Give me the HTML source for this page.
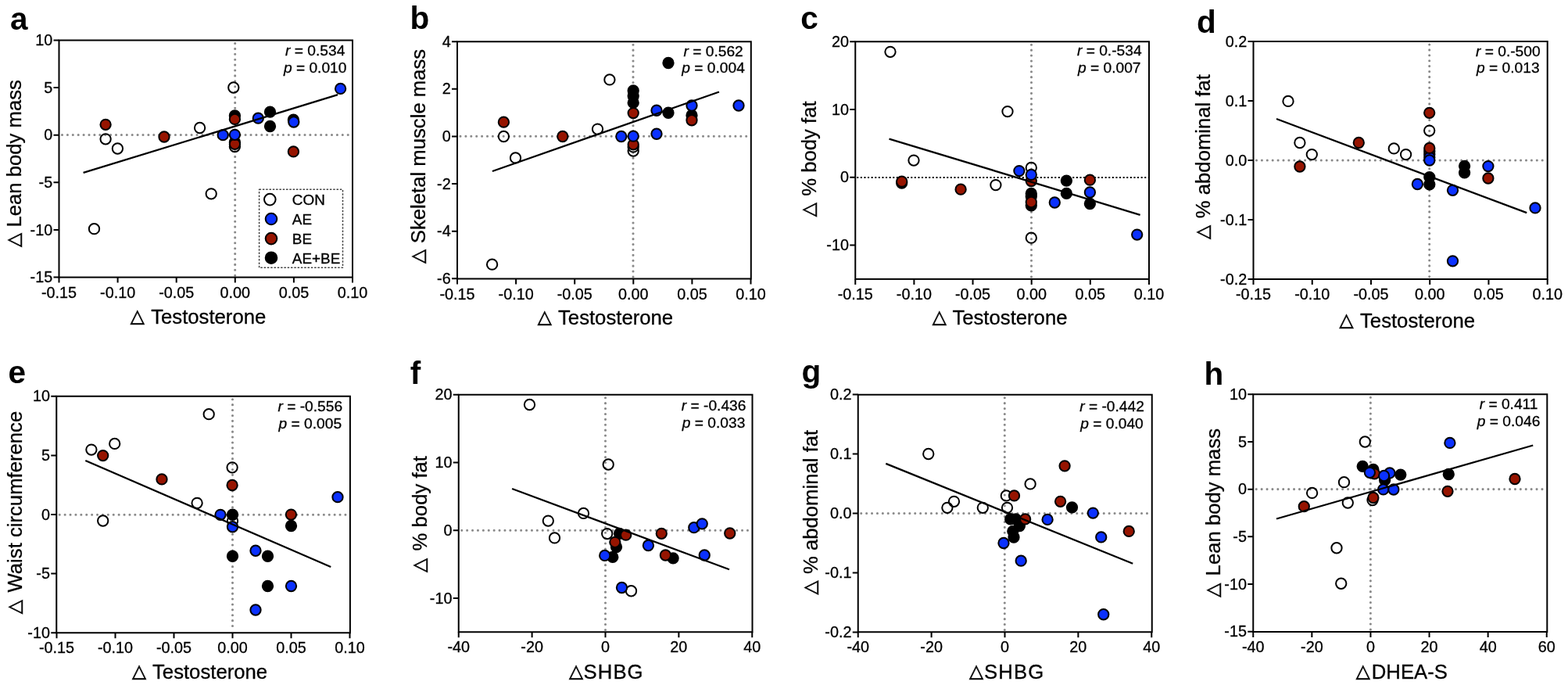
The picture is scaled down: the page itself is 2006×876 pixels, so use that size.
<!DOCTYPE html>
<html><head><meta charset="utf-8"><title>Figure</title>
<style>
html,body{margin:0;padding:0;background:#fff;}
svg{display:block;}
text{font-family:'Liberation Sans', Arial, sans-serif;fill:#000;stroke:#000;stroke-width:0.3px;}
.tx{font-size:19.8px;}
.an{font-size:19.2px;}
.ti{font-size:25.7px;}
.sh{letter-spacing:1.1px;}
.le{font-size:18.9px;}
.pl{font-size:40.5px;font-weight:bold;stroke-width:0;}
.dl{font-family:'DejaVu Sans',sans-serif;font-size:23.5px;stroke:#000;stroke-width:0.6px;}
.zg{stroke:#8a8a8a;stroke-width:3.1;stroke-linecap:round;stroke-dasharray:0 6.9;fill:none;}
.zb{stroke:#000;stroke-width:2;stroke-dasharray:2 2.6;fill:none;}
.c0{fill:none;stroke:#000;stroke-width:2.0;}
.c1{fill:#0b31ff;stroke:#000;stroke-width:2.0;}
.c2{fill:#961400;stroke:#000;stroke-width:2.0;}
.c3{fill:#000;stroke:#000;stroke-width:2.0;}
.rg{stroke:#000;stroke-width:2.3;}
.fr{fill:none;stroke:#000;stroke-width:2;}
.tk{fill:none;stroke:#000;stroke-width:2;}
.lg{fill:none;stroke:#444;stroke-width:1.5;stroke-dasharray:2.5 1.8;stroke-linejoin:round;}
</style></head>
<body>
<svg width="2006" height="876" viewBox="0 0 2006 876">
<rect width="2006" height="876" fill="#fff"/>
<g id="pa">
<line x1="79.5" y1="172.5" x2="449" y2="172.5" class="zg"/>
<line x1="300.7" y1="55.5" x2="300.7" y2="352.6" class="zg"/>
<circle cx="298.8" cy="112" r="6.65" class="c0"/>
<circle cx="135.1" cy="177.8" r="6.65" class="c0"/>
<circle cx="150.4" cy="190" r="6.65" class="c0"/>
<circle cx="255.6" cy="163.5" r="6.65" class="c0"/>
<circle cx="300.4" cy="187.5" r="6.65" class="c0"/>
<circle cx="270.2" cy="247.8" r="6.65" class="c0"/>
<circle cx="120.5" cy="292.7" r="6.65" class="c0"/>
<circle cx="300.4" cy="148" r="6.65" class="c3"/>
<circle cx="345.5" cy="143.2" r="6.65" class="c3"/>
<circle cx="345.5" cy="161.5" r="6.65" class="c3"/>
<circle cx="375.4" cy="153.2" r="6.65" class="c3"/>
<circle cx="300.4" cy="182" r="6.65" class="c3"/>
<circle cx="135.1" cy="159.3" r="6.65" class="c2"/>
<circle cx="210" cy="175" r="6.65" class="c2"/>
<circle cx="300.4" cy="152.4" r="6.65" class="c2"/>
<circle cx="300.4" cy="184.3" r="6.65" class="c2"/>
<circle cx="375.4" cy="193.9" r="6.65" class="c2"/>
<circle cx="435.6" cy="113.4" r="6.65" class="c1"/>
<circle cx="285.2" cy="172.7" r="6.65" class="c1"/>
<circle cx="300.4" cy="172.3" r="6.65" class="c1"/>
<circle cx="330.3" cy="151.2" r="6.65" class="c1"/>
<circle cx="375.8" cy="156" r="6.65" class="c1"/>
<line x1="106.6" y1="220.8" x2="432.1" y2="121.2" class="rg"/>
<rect x="75.5" y="51.5" width="375.5" height="303.1" class="fr"/>
<path d="M75.5 354.6v7M150.6 354.6v7M225.7 354.6v7M300.8 354.6v7M375.9 354.6v7M451 354.6v7M75.5 51.5h-7M75.5 112.12h-7M75.5 172.74h-7M75.5 233.36h-7M75.5 293.98h-7M75.5 354.6h-7" class="tk"/>
<text x="75.5" y="380.8" class="tx" text-anchor="middle">-0.15</text>
<text x="150.6" y="380.8" class="tx" text-anchor="middle">-0.10</text>
<text x="225.7" y="380.8" class="tx" text-anchor="middle">-0.05</text>
<text x="300.8" y="380.8" class="tx" text-anchor="middle">0.00</text>
<text x="375.9" y="380.8" class="tx" text-anchor="middle">0.05</text>
<text x="451" y="380.8" class="tx" text-anchor="middle">0.10</text>
<text x="67.2" y="58.1" class="tx" text-anchor="end">10</text>
<text x="67.2" y="118.72" class="tx" text-anchor="end">5</text>
<text x="67.2" y="179.34" class="tx" text-anchor="end">0</text>
<text x="67.2" y="239.96" class="tx" text-anchor="end">-5</text>
<text x="67.2" y="300.58" class="tx" text-anchor="end">-10</text>
<text x="67.2" y="361.2" class="tx" text-anchor="end">-15</text>
<text x="403.2" y="71.1" class="an" text-anchor="middle"><tspan font-style="italic">r</tspan> = 0.534</text>
<text x="403.2" y="92.5" class="an" text-anchor="middle"><tspan font-style="italic">p</tspan> = 0.010</text>
<text x="166.7" y="412.3" class="dl">&#x25B3;</text>
<text x="193.2" y="414.3" class="ti">Testosterone</text>
<text transform="translate(24.8 316.1) rotate(-90)" class="dl">&#x25B3;</text>
<text transform="translate(26.8 290.6) rotate(-90)" class="ti">Lean body mass</text>
<text x="13" y="38" class="pl">a</text>
</g>
<g id="pb">
<line x1="589" y1="174.25" x2="958.8" y2="174.25" class="zg"/>
<line x1="810" y1="57.25" x2="810" y2="354.5" class="zg"/>
<circle cx="779.9" cy="101.9" r="6.65" class="c0"/>
<circle cx="644.4" cy="174.5" r="6.65" class="c0"/>
<circle cx="659.5" cy="201.9" r="6.65" class="c0"/>
<circle cx="764.5" cy="165.1" r="6.65" class="c0"/>
<circle cx="810.2" cy="187.9" r="6.65" class="c0"/>
<circle cx="810.2" cy="193" r="6.65" class="c0"/>
<circle cx="629.6" cy="338.2" r="6.65" class="c0"/>
<circle cx="855" cy="80.5" r="6.65" class="c3"/>
<circle cx="810.2" cy="116" r="6.65" class="c3"/>
<circle cx="810.2" cy="122.8" r="6.65" class="c3"/>
<circle cx="810.2" cy="131.4" r="6.65" class="c3"/>
<circle cx="855" cy="144.25" r="6.65" class="c3"/>
<circle cx="885" cy="147.5" r="6.65" class="c3"/>
<circle cx="644.4" cy="156.2" r="6.65" class="c2"/>
<circle cx="719.8" cy="174.5" r="6.65" class="c2"/>
<circle cx="810.2" cy="144.6" r="6.65" class="c2"/>
<circle cx="810.2" cy="184.8" r="6.65" class="c2"/>
<circle cx="885" cy="153.75" r="6.65" class="c2"/>
<circle cx="794.8" cy="174.5" r="6.65" class="c1"/>
<circle cx="810.2" cy="174.2" r="6.65" class="c1"/>
<circle cx="840" cy="141.25" r="6.65" class="c1"/>
<circle cx="840" cy="171.25" r="6.65" class="c1"/>
<circle cx="885" cy="135" r="6.65" class="c1"/>
<circle cx="945" cy="135" r="6.65" class="c1"/>
<line x1="629.9" y1="219" x2="920" y2="117.5" class="rg"/>
<rect x="585" y="53.25" width="375.8" height="303.25" class="fr"/>
<path d="M585 356.5v7M660.1 356.5v7M735.2 356.5v7M810.3 356.5v7M885.4 356.5v7M960.5 356.5v7M585 53.25h-7M585 113.85h-7M585 174.45h-7M585 235.05h-7M585 295.65h-7M585 356.25h-7" class="tk"/>
<text x="585" y="382.7" class="tx" text-anchor="middle">-0.15</text>
<text x="660.1" y="382.7" class="tx" text-anchor="middle">-0.10</text>
<text x="735.2" y="382.7" class="tx" text-anchor="middle">-0.05</text>
<text x="810.3" y="382.7" class="tx" text-anchor="middle">0.00</text>
<text x="885.4" y="382.7" class="tx" text-anchor="middle">0.05</text>
<text x="960.5" y="382.7" class="tx" text-anchor="middle">0.10</text>
<text x="576.7" y="59.85" class="tx" text-anchor="end">4</text>
<text x="576.7" y="120.45" class="tx" text-anchor="end">2</text>
<text x="576.7" y="181.05" class="tx" text-anchor="end">0</text>
<text x="576.7" y="241.65" class="tx" text-anchor="end">-2</text>
<text x="576.7" y="302.25" class="tx" text-anchor="end">-4</text>
<text x="576.7" y="362.85" class="tx" text-anchor="end">-6</text>
<text x="912.6" y="71.75" class="an" text-anchor="middle"><tspan font-style="italic">r</tspan> = 0.562</text>
<text x="912.6" y="92.5" class="an" text-anchor="middle"><tspan font-style="italic">p</tspan> = 0.004</text>
<text x="687.8" y="413.3" class="dl">&#x25B3;</text>
<text x="714" y="415.3" class="ti">Testosterone</text>
<text transform="translate(542.3 336.9) rotate(-90)" class="dl">&#x25B3;</text>
<text transform="translate(544.3 311.2) rotate(-90)" class="ti">Skeletal muscle mass</text>
<text x="524.5" y="37" class="pl">b</text>
</g>
<g id="pc">
<line x1="1096.25" y1="227" x2="1469" y2="227" class="zb"/>
<line x1="1319.5" y1="57.25" x2="1319.5" y2="354.9" class="zg"/>
<circle cx="1139" cy="66.3" r="6.65" class="c0"/>
<circle cx="1289" cy="142.6" r="6.65" class="c0"/>
<circle cx="1169" cy="205.1" r="6.65" class="c0"/>
<circle cx="1273.9" cy="236.6" r="6.65" class="c0"/>
<circle cx="1319.3" cy="214.5" r="6.65" class="c0"/>
<circle cx="1319.3" cy="304.2" r="6.65" class="c0"/>
<circle cx="1153.7" cy="234" r="6.65" class="c3"/>
<circle cx="1319.3" cy="247.4" r="6.65" class="c3"/>
<circle cx="1319.3" cy="251" r="6.65" class="c3"/>
<circle cx="1319.3" cy="262.8" r="6.65" class="c3"/>
<circle cx="1364.4" cy="231.1" r="6.65" class="c3"/>
<circle cx="1364.4" cy="247.4" r="6.65" class="c3"/>
<circle cx="1394.4" cy="260.5" r="6.65" class="c3"/>
<circle cx="1153.7" cy="232.2" r="6.65" class="c2"/>
<circle cx="1229.1" cy="242.2" r="6.65" class="c2"/>
<circle cx="1319.3" cy="231.6" r="6.65" class="c2"/>
<circle cx="1319.3" cy="258.5" r="6.65" class="c2"/>
<circle cx="1394.4" cy="230.2" r="6.65" class="c2"/>
<circle cx="1303.9" cy="218.6" r="6.65" class="c1"/>
<circle cx="1319.3" cy="223.4" r="6.65" class="c1"/>
<circle cx="1349.3" cy="259" r="6.65" class="c1"/>
<circle cx="1394.4" cy="246" r="6.65" class="c1"/>
<circle cx="1454.7" cy="300.1" r="6.65" class="c1"/>
<line x1="1137.5" y1="177.6" x2="1458.6" y2="274.8" class="rg"/>
<rect x="1094.25" y="53.25" width="375.75" height="303.65" class="fr"/>
<path d="M1094.25 356.9v7M1169.4 356.9v7M1244.55 356.9v7M1319.7 356.9v7M1394.85 356.9v7M1470 356.9v7M1094.25 53.25h-7M1094.25 140h-7M1094.25 226.75h-7M1094.25 313.5h-7" class="tk"/>
<text x="1094.25" y="383.1" class="tx" text-anchor="middle">-0.15</text>
<text x="1169.4" y="383.1" class="tx" text-anchor="middle">-0.10</text>
<text x="1244.55" y="383.1" class="tx" text-anchor="middle">-0.05</text>
<text x="1319.7" y="383.1" class="tx" text-anchor="middle">0.00</text>
<text x="1394.85" y="383.1" class="tx" text-anchor="middle">0.05</text>
<text x="1470" y="383.1" class="tx" text-anchor="middle">0.10</text>
<text x="1085.95" y="59.85" class="tx" text-anchor="end">20</text>
<text x="1085.95" y="146.6" class="tx" text-anchor="end">10</text>
<text x="1085.95" y="233.35" class="tx" text-anchor="end">0</text>
<text x="1085.95" y="320.1" class="tx" text-anchor="end">-10</text>
<text x="1419.25" y="71.25" class="an" text-anchor="middle"><tspan font-style="italic">r</tspan> = 0.-534</text>
<text x="1419.25" y="92.5" class="an" text-anchor="middle"><tspan font-style="italic">p</tspan> = 0.007</text>
<text x="1192.8" y="413.1" class="dl">&#x25B3;</text>
<text x="1218.4" y="415.1" class="ti">Testosterone</text>
<text transform="translate(1042 277.3) rotate(-90)" class="dl">&#x25B3;</text>
<text transform="translate(1044 250.8) rotate(-90)" class="ti">% body fat</text>
<text x="1024.25" y="37" class="pl">c</text>
</g>
<g id="pd">
<line x1="1607.5" y1="205" x2="1977.7" y2="205" class="zg"/>
<line x1="1828.7" y1="57" x2="1828.7" y2="355" class="zg"/>
<circle cx="1648" cy="129.4" r="6.65" class="c0"/>
<circle cx="1662.9" cy="182.5" r="6.65" class="c0"/>
<circle cx="1678.3" cy="197.6" r="6.65" class="c0"/>
<circle cx="1783.3" cy="189.9" r="6.65" class="c0"/>
<circle cx="1798.6" cy="197.6" r="6.65" class="c0"/>
<circle cx="1828.7" cy="167.1" r="6.65" class="c0"/>
<circle cx="1828.8" cy="226.6" r="6.65" class="c3"/>
<circle cx="1828.8" cy="235.8" r="6.65" class="c3"/>
<circle cx="1873.6" cy="212.3" r="6.65" class="c3"/>
<circle cx="1873.6" cy="220.8" r="6.65" class="c3"/>
<circle cx="1662.9" cy="213" r="6.65" class="c2"/>
<circle cx="1738.3" cy="182.5" r="6.65" class="c2"/>
<circle cx="1828.7" cy="144.3" r="6.65" class="c2"/>
<circle cx="1903.9" cy="228" r="6.65" class="c2"/>
<circle cx="1813.4" cy="235.5" r="6.65" class="c1"/>
<circle cx="1858.5" cy="243.3" r="6.65" class="c1"/>
<circle cx="1903.9" cy="212.6" r="6.65" class="c1"/>
<circle cx="1964" cy="265.9" r="6.65" class="c1"/>
<circle cx="1858.5" cy="333.8" r="6.65" class="c1"/>
<circle cx="1828.8" cy="197.6" r="6.65" class="c3"/>
<circle cx="1828.8" cy="193.6" r="6.65" class="c2"/>
<circle cx="1828.8" cy="201.2" r="6.65" class="c1"/>
<circle cx="1828.8" cy="189.4" r="6.65" class="c2"/>
<circle cx="1828.8" cy="205" r="6.65" class="c1"/>
<line x1="1633" y1="152" x2="1953.2" y2="272.2" class="rg"/>
<rect x="1603.5" y="53" width="376.2" height="304" class="fr"/>
<path d="M1603.5 357v7M1678.74 357v7M1753.98 357v7M1829.22 357v7M1904.46 357v7M1979.7 357v7M1603.5 53h-7M1603.5 129h-7M1603.5 205h-7M1603.5 281h-7M1603.5 357h-7" class="tk"/>
<text x="1603.5" y="383.2" class="tx" text-anchor="middle">-0.15</text>
<text x="1678.74" y="383.2" class="tx" text-anchor="middle">-0.10</text>
<text x="1753.98" y="383.2" class="tx" text-anchor="middle">-0.05</text>
<text x="1829.22" y="383.2" class="tx" text-anchor="middle">0.00</text>
<text x="1904.46" y="383.2" class="tx" text-anchor="middle">0.05</text>
<text x="1979.7" y="383.2" class="tx" text-anchor="middle">0.10</text>
<text x="1595.2" y="59.6" class="tx" text-anchor="end">0.2</text>
<text x="1595.2" y="135.6" class="tx" text-anchor="end">0.1</text>
<text x="1595.2" y="211.6" class="tx" text-anchor="end">0.0</text>
<text x="1595.2" y="287.6" class="tx" text-anchor="end">-0.1</text>
<text x="1595.2" y="363.6" class="tx" text-anchor="end">-0.2</text>
<text x="1929.3" y="71.7" class="an" text-anchor="middle"><tspan font-style="italic">r</tspan> = 0.-500</text>
<text x="1929.3" y="93.4" class="an" text-anchor="middle"><tspan font-style="italic">p</tspan> = 0.013</text>
<text x="1713.4" y="417.3" class="dl">&#x25B3;</text>
<text x="1740" y="419.3" class="ti">Testosterone</text>
<text transform="translate(1546.4 305.9) rotate(-90)" class="dl">&#x25B3;</text>
<text transform="translate(1548.4 279.2) rotate(-90)" class="ti">% abdominal fat</text>
<text x="1531" y="42" class="pl">d</text>
</g>
<g id="pe">
<line x1="76.25" y1="658.25" x2="445.9" y2="658.25" class="zg"/>
<line x1="297.5" y1="510.75" x2="297.5" y2="807.25" class="zg"/>
<circle cx="116.9" cy="575.1" r="6.65" class="c0"/>
<circle cx="146.7" cy="567.4" r="6.65" class="c0"/>
<circle cx="131.7" cy="666" r="6.65" class="c0"/>
<circle cx="267.2" cy="529.7" r="6.65" class="c0"/>
<circle cx="252.1" cy="643.3" r="6.65" class="c0"/>
<circle cx="297.1" cy="597.8" r="6.65" class="c0"/>
<circle cx="297.5" cy="666.25" r="6.65" class="c0"/>
<circle cx="297.5" cy="658.25" r="6.65" class="c3"/>
<circle cx="372.5" cy="672.5" r="6.65" class="c3"/>
<circle cx="297.5" cy="711.25" r="6.65" class="c3"/>
<circle cx="342.5" cy="711.25" r="6.65" class="c3"/>
<circle cx="342.5" cy="749.5" r="6.65" class="c3"/>
<circle cx="131.7" cy="582.6" r="6.65" class="c2"/>
<circle cx="207" cy="612.9" r="6.65" class="c2"/>
<circle cx="297.1" cy="620.5" r="6.65" class="c2"/>
<circle cx="372.4" cy="658.1" r="6.65" class="c2"/>
<circle cx="282" cy="658.3" r="6.65" class="c1"/>
<circle cx="297.5" cy="673.75" r="6.65" class="c1"/>
<circle cx="327" cy="704.25" r="6.65" class="c1"/>
<circle cx="372.5" cy="749.5" r="6.65" class="c1"/>
<circle cx="327" cy="780" r="6.65" class="c1"/>
<circle cx="432" cy="635.7" r="6.65" class="c1"/>
<line x1="109.3" y1="589" x2="423.25" y2="725" class="rg"/>
<rect x="72.25" y="506.75" width="375.65" height="302.5" class="fr"/>
<path d="M72.5 809.25v7M147.5 809.25v7M222.5 809.25v7M297.5 809.25v7M372.5 809.25v7M447.5 809.25v7M72.25 506.75h-7M72.25 582.38h-7M72.25 658h-7M72.25 733.62h-7M72.25 809.25h-7" class="tk"/>
<text x="72.5" y="835.45" class="tx" text-anchor="middle">-0.15</text>
<text x="147.5" y="835.45" class="tx" text-anchor="middle">-0.10</text>
<text x="222.5" y="835.45" class="tx" text-anchor="middle">-0.05</text>
<text x="297.5" y="835.45" class="tx" text-anchor="middle">0.00</text>
<text x="372.5" y="835.45" class="tx" text-anchor="middle">0.05</text>
<text x="447.5" y="835.45" class="tx" text-anchor="middle">0.10</text>
<text x="63.95" y="513.35" class="tx" text-anchor="end">10</text>
<text x="63.95" y="588.98" class="tx" text-anchor="end">5</text>
<text x="63.95" y="664.6" class="tx" text-anchor="end">0</text>
<text x="63.95" y="740.23" class="tx" text-anchor="end">-5</text>
<text x="63.95" y="815.85" class="tx" text-anchor="end">-10</text>
<text x="396.8" y="525.8" class="an" text-anchor="middle"><tspan font-style="italic">r</tspan> = -0.556</text>
<text x="396.8" y="548.1" class="an" text-anchor="middle"><tspan font-style="italic">p</tspan> = 0.005</text>
<text x="169" y="866.1" class="dl">&#x25B3;</text>
<text x="195" y="868.1" class="ti">Testosterone</text>
<text transform="translate(26.2 785.3) rotate(-90)" class="dl">&#x25B3;</text>
<text transform="translate(28.2 757.5) rotate(-90)" class="ti">Waist circumference</text>
<text x="10.5" y="490" class="pl">e</text>
</g>
<g id="pf">
<line x1="590.75" y1="678.25" x2="960.5" y2="678.25" class="zg"/>
<line x1="774.5" y1="508.75" x2="774.5" y2="806.25" class="zg"/>
<circle cx="677.5" cy="517.5" r="6.65" class="c0"/>
<circle cx="778.2" cy="594" r="6.65" class="c0"/>
<circle cx="701.3" cy="666.1" r="6.65" class="c0"/>
<circle cx="709.5" cy="687.9" r="6.65" class="c0"/>
<circle cx="746.5" cy="656.4" r="6.65" class="c0"/>
<circle cx="776.7" cy="682.6" r="6.65" class="c0"/>
<circle cx="807.5" cy="755.75" r="6.65" class="c0"/>
<circle cx="792.5" cy="682.3" r="6.65" class="c3"/>
<circle cx="788.5" cy="699.5" r="6.65" class="c3"/>
<circle cx="783.8" cy="712.4" r="6.65" class="c3"/>
<circle cx="861.1" cy="713.8" r="6.65" class="c3"/>
<circle cx="800.7" cy="684.2" r="6.65" class="c2"/>
<circle cx="786.8" cy="693.3" r="6.65" class="c2"/>
<circle cx="846.3" cy="682.3" r="6.65" class="c2"/>
<circle cx="851.4" cy="710" r="6.65" class="c2"/>
<circle cx="933.75" cy="682" r="6.65" class="c2"/>
<circle cx="773.7" cy="710.4" r="6.65" class="c1"/>
<circle cx="795.5" cy="751.5" r="6.65" class="c1"/>
<circle cx="829.4" cy="697.5" r="6.65" class="c1"/>
<circle cx="887.8" cy="674.7" r="6.65" class="c1"/>
<circle cx="898.25" cy="669.8" r="6.65" class="c1"/>
<circle cx="901.25" cy="710" r="6.65" class="c1"/>
<line x1="655.1" y1="625" x2="933" y2="728.25" class="rg"/>
<rect x="586.75" y="504.75" width="375.75" height="303.5" class="fr"/>
<path d="M586.75 808.25v7M680.62 808.25v7M774.5 808.25v7M868.38 808.25v7M962.25 808.25v7M586.75 504.75h-7M586.75 591.5h-7M586.75 678.25h-7M586.75 765h-7" class="tk"/>
<text x="586.75" y="834.45" class="tx" text-anchor="middle">-40</text>
<text x="680.62" y="834.45" class="tx" text-anchor="middle">-20</text>
<text x="774.5" y="834.45" class="tx" text-anchor="middle">0</text>
<text x="868.38" y="834.45" class="tx" text-anchor="middle">20</text>
<text x="962.25" y="834.45" class="tx" text-anchor="middle">40</text>
<text x="578.45" y="511.35" class="tx" text-anchor="end">20</text>
<text x="578.45" y="598.1" class="tx" text-anchor="end">10</text>
<text x="578.45" y="684.85" class="tx" text-anchor="end">0</text>
<text x="578.45" y="771.6" class="tx" text-anchor="end">-10</text>
<text x="913.1" y="525" class="an" text-anchor="middle"><tspan font-style="italic">r</tspan> = -0.436</text>
<text x="913.1" y="547" class="an" text-anchor="middle"><tspan font-style="italic">p</tspan> = 0.033</text>
<text x="727.9" y="865.6" class="dl">&#x25B3;</text>
<text x="746.5" y="867.6" class="ti sh">SHBG</text>
<text transform="translate(543.6 732.1) rotate(-90)" class="dl">&#x25B3;</text>
<text transform="translate(545.6 704.4) rotate(-90)" class="ti">% body fat</text>
<text x="524.75" y="491" class="pl">f</text>
</g>
<g id="pg">
<line x1="1101.75" y1="656.5" x2="1471.75" y2="656.5" class="zg"/>
<line x1="1285.3" y1="508.75" x2="1285.3" y2="806.25" class="zg"/>
<circle cx="1187.75" cy="580.5" r="6.65" class="c0"/>
<circle cx="1211.9" cy="649.3" r="6.65" class="c0"/>
<circle cx="1220.5" cy="641.3" r="6.65" class="c0"/>
<circle cx="1257.3" cy="649.3" r="6.65" class="c0"/>
<circle cx="1287.3" cy="633.9" r="6.65" class="c0"/>
<circle cx="1288.5" cy="649.3" r="6.65" class="c0"/>
<circle cx="1318.1" cy="618.9" r="6.65" class="c0"/>
<circle cx="1292.7" cy="663.9" r="6.65" class="c3"/>
<circle cx="1299.6" cy="663.9" r="6.65" class="c3"/>
<circle cx="1304.4" cy="672.5" r="6.65" class="c3"/>
<circle cx="1295.8" cy="679.3" r="6.65" class="c3"/>
<circle cx="1297" cy="687" r="6.65" class="c3"/>
<circle cx="1371.5" cy="648.8" r="6.65" class="c3"/>
<circle cx="1297.5" cy="633.9" r="6.65" class="c2"/>
<circle cx="1311.6" cy="663.9" r="6.65" class="c2"/>
<circle cx="1356.6" cy="641.3" r="6.65" class="c2"/>
<circle cx="1362.1" cy="595.8" r="6.65" class="c2"/>
<circle cx="1444.25" cy="679.4" r="6.65" class="c2"/>
<circle cx="1284" cy="694.5" r="6.65" class="c1"/>
<circle cx="1306.2" cy="717.2" r="6.65" class="c1"/>
<circle cx="1340.1" cy="664.4" r="6.65" class="c1"/>
<circle cx="1398.3" cy="656.1" r="6.65" class="c1"/>
<circle cx="1408.75" cy="686.9" r="6.65" class="c1"/>
<circle cx="1411.75" cy="785.75" r="6.65" class="c1"/>
<line x1="1133.3" y1="592.9" x2="1449.25" y2="720.75" class="rg"/>
<rect x="1097.75" y="504.75" width="376" height="303.5" class="fr"/>
<path d="M1097.75 808.25v7M1191.62 808.25v7M1285.5 808.25v7M1379.38 808.25v7M1473.25 808.25v7M1097.75 504.5h-7M1097.75 580.5h-7M1097.75 656.5h-7M1097.75 732.5h-7M1097.75 808.5h-7" class="tk"/>
<text x="1097.75" y="834.45" class="tx" text-anchor="middle">-40</text>
<text x="1191.62" y="834.45" class="tx" text-anchor="middle">-20</text>
<text x="1285.5" y="834.45" class="tx" text-anchor="middle">0</text>
<text x="1379.38" y="834.45" class="tx" text-anchor="middle">20</text>
<text x="1473.25" y="834.45" class="tx" text-anchor="middle">40</text>
<text x="1089.45" y="511.1" class="tx" text-anchor="end">0.2</text>
<text x="1089.45" y="587.1" class="tx" text-anchor="end">0.1</text>
<text x="1089.45" y="663.1" class="tx" text-anchor="end">0.0</text>
<text x="1089.45" y="739.1" class="tx" text-anchor="end">-0.1</text>
<text x="1089.45" y="815.1" class="tx" text-anchor="end">-0.2</text>
<text x="1422.5" y="526.25" class="an" text-anchor="middle"><tspan font-style="italic">r</tspan> = -0.442</text>
<text x="1422.5" y="547.5" class="an" text-anchor="middle"><tspan font-style="italic">p</tspan> = 0.040</text>
<text x="1240" y="865.9" class="dl">&#x25B3;</text>
<text x="1259.1" y="867.9" class="ti sh">SHBG</text>
<text transform="translate(1044.4 760.5) rotate(-90)" class="dl">&#x25B3;</text>
<text transform="translate(1046.4 734) rotate(-90)" class="ti">% abdominal fat</text>
<text x="1025.5" y="488.8" class="pl">g</text>
</g>
<g id="ph">
<line x1="1607.25" y1="625.6" x2="1977.3" y2="625.6" class="zg"/>
<line x1="1753.4" y1="508.25" x2="1753.4" y2="806" class="zg"/>
<circle cx="1746.3" cy="565" r="6.65" class="c0"/>
<circle cx="1719.5" cy="616.7" r="6.65" class="c0"/>
<circle cx="1678.6" cy="630.4" r="6.65" class="c0"/>
<circle cx="1724.3" cy="643" r="6.65" class="c0"/>
<circle cx="1756" cy="639.6" r="6.65" class="c0"/>
<circle cx="1710" cy="700.75" r="6.65" class="c0"/>
<circle cx="1715.75" cy="746.25" r="6.65" class="c0"/>
<circle cx="1743.2" cy="596.3" r="6.65" class="c3"/>
<circle cx="1756.9" cy="600.3" r="6.65" class="c3"/>
<circle cx="1771.6" cy="614" r="6.65" class="c3"/>
<circle cx="1791.8" cy="607.1" r="6.65" class="c3"/>
<circle cx="1853.3" cy="606.5" r="6.65" class="c3"/>
<circle cx="1668.3" cy="647.7" r="6.65" class="c2"/>
<circle cx="1758.4" cy="605.8" r="6.65" class="c2"/>
<circle cx="1756.9" cy="636.5" r="6.65" class="c2"/>
<circle cx="1852" cy="628.3" r="6.65" class="c2"/>
<circle cx="1938" cy="612.5" r="6.65" class="c2"/>
<circle cx="1752.4" cy="604.3" r="6.65" class="c1"/>
<circle cx="1777.9" cy="604.9" r="6.65" class="c1"/>
<circle cx="1770.6" cy="608.5" r="6.65" class="c1"/>
<circle cx="1769.7" cy="625.9" r="6.65" class="c1"/>
<circle cx="1782.9" cy="626" r="6.65" class="c1"/>
<circle cx="1854.9" cy="566.4" r="6.65" class="c1"/>
<line x1="1633" y1="663.5" x2="1961.25" y2="569.5" class="rg"/>
<rect x="1603.25" y="504.25" width="376.05" height="303.75" class="fr"/>
<path d="M1603.25 808v7M1678.35 808v7M1753.45 808v7M1828.55 808v7M1903.65 808v7M1978.75 808v7M1603.25 504.25h-7M1603.25 564.95h-7M1603.25 625.65h-7M1603.25 686.35h-7M1603.25 747.05h-7M1603.25 807.75h-7" class="tk"/>
<text x="1603.25" y="834.2" class="tx" text-anchor="middle">-40</text>
<text x="1678.35" y="834.2" class="tx" text-anchor="middle">-20</text>
<text x="1753.45" y="834.2" class="tx" text-anchor="middle">0</text>
<text x="1828.55" y="834.2" class="tx" text-anchor="middle">20</text>
<text x="1903.65" y="834.2" class="tx" text-anchor="middle">40</text>
<text x="1978.75" y="834.2" class="tx" text-anchor="middle">60</text>
<text x="1594.95" y="510.85" class="tx" text-anchor="end">10</text>
<text x="1594.95" y="571.55" class="tx" text-anchor="end">5</text>
<text x="1594.95" y="632.25" class="tx" text-anchor="end">0</text>
<text x="1594.95" y="692.95" class="tx" text-anchor="end">-5</text>
<text x="1594.95" y="753.65" class="tx" text-anchor="end">-10</text>
<text x="1594.95" y="814.35" class="tx" text-anchor="end">-15</text>
<text x="1930.1" y="523.25" class="an" text-anchor="middle"><tspan font-style="italic">r</tspan> = 0.411</text>
<text x="1930.1" y="544.5" class="an" text-anchor="middle"><tspan font-style="italic">p</tspan> = 0.046</text>
<text x="1734.8" y="866" class="dl">&#x25B3;</text>
<text x="1754.8" y="868" class="ti">DHEA-S</text>
<text transform="translate(1558.6 763.8) rotate(-90)" class="dl">&#x25B3;</text>
<text transform="translate(1560.6 736.4) rotate(-90)" class="ti">Lean body mass</text>
<text x="1540.5" y="492" class="pl">h</text>
</g>
<g id="legend">
<rect x="331.6" y="242.3" width="106.9" height="100" class="lg"/>
<circle cx="345.3" cy="255.1" r="7.3" class="c0" stroke-width="2.2"/>
<circle cx="347" cy="280" r="7.3" class="c1" stroke-width="2.2"/>
<circle cx="347" cy="305.1" r="7.3" class="c2" stroke-width="2.2"/>
<circle cx="347" cy="329.7" r="7.3" class="c3" stroke-width="2.2"/>
<text x="373.8" y="262.2" class="le">CON</text>
<text x="373.8" y="286.8" class="le">AE</text>
<text x="373.8" y="312.2" class="le">BE</text>
<text x="373.8" y="336.6" class="le">AE+BE</text>
</g>
</svg>
</body></html>
